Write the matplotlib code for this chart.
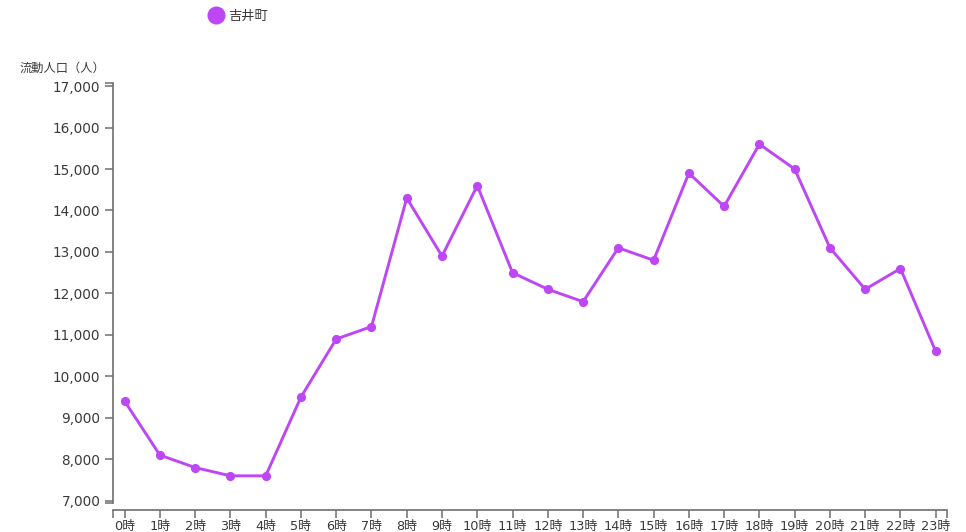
import matplotlib
matplotlib.use("Agg")
import matplotlib.pyplot as plt
from matplotlib.lines import Line2D
from matplotlib.ticker import FuncFormatter

plt.rcParams['font.family'] = ['DejaVu Sans', 'Noto Sans CJK JP']

# Hourly flow population for 吉井町
hours = list(range(24))
hour_labels = [f"{h}時" for h in hours]
population = [9400, 8100, 7800, 7600, 7600, 9500, 10900, 11200, 14300, 12900,
              14600, 12500, 12100, 11800, 13100, 12800, 14900, 14100, 15600, 15000,
              13100, 12100, 12600, 10600]
series_name = "吉井町"
y_title = "流動人口（人）"
y_ticks = list(range(7000, 17001, 1000))

color = "#bd47f5"
axis_color = "#6e6e6e"
text_color = "#3a3a3a"

W, H = 966, 532
fig = plt.figure(figsize=(W / 100, H / 100), dpi=100)
ax = fig.add_axes([113 / W, 1 - 503 / H, (947 - 113) / W, (503 - 83) / H])

ax.plot(hours, population, color=color, lw=2.1, marker='o', ms=6.6,
        markeredgewidth=0, solid_joinstyle='round', zorder=3)

ax.set_xlim(-0.33, 23.32)
ax.set_ylim(6945, 17075)

for s in ('top', 'right'):
    ax.spines[s].set_visible(False)
for s in ('left', 'bottom'):
    ax.spines[s].set_color(axis_color)
    ax.spines[s].set_linewidth(1.2)
ax.spines['bottom'].set_position(('outward', 5))

ax.set_xticks(hours)
ax.set_xticklabels(hour_labels)
ax.set_yticks(y_ticks)
ax.yaxis.set_major_formatter(FuncFormatter(lambda v, p: f"{int(v):,}"))

# outer end ticks on both axes
ax.set_xticks(list(ax.get_xlim()), minor=True)
ax.set_yticks(list(ax.get_ylim()), minor=True)

ax.tick_params(axis='both', which='both', length=6, width=1.1, color=axis_color,
               labelcolor=text_color)
ax.tick_params(axis='x', which='major', pad=1, labelsize=9.3)
ax.tick_params(axis='y', which='major', pad=3, labelsize=9.8)

fig.text(20 / W, 1 - 68 / H, y_title, fontsize=8.8, color=text_color,
         va='center', ha='left')

handle = Line2D([], [], color=color, marker='o', ms=13, lw=0, markeredgewidth=0)
fig.legend([handle], [series_name], loc='center left',
           bbox_to_anchor=(196 / W, 1 - 16 / H), frameon=False,
           handletextpad=0.3, handlelength=1.2, fontsize=9.5, labelcolor=text_color)

fig.savefig("out.png", dpi=100)
